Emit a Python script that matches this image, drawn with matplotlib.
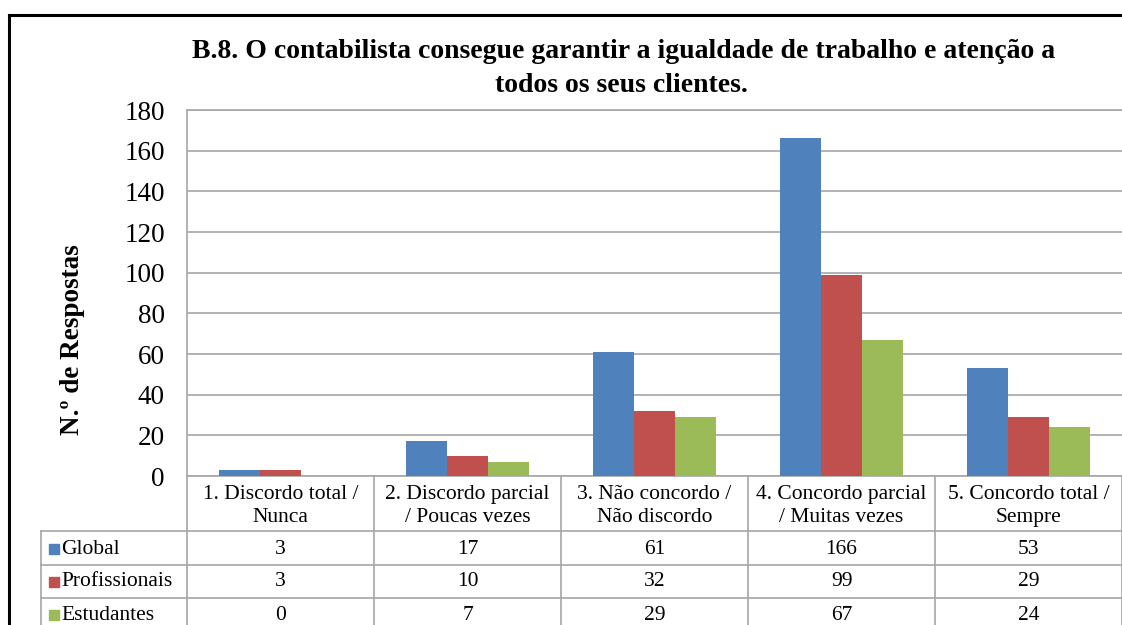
import numpy as np
import matplotlib.pyplot as plt
from matplotlib.lines import Line2D
from matplotlib.patches import Rectangle

plt.rcParams['font.family'] = ['Liberation Serif', 'DejaVu Serif']

# donnees
categorias = ["1. Discordo total /\nNunca", "2. Discordo parcial\n/ Poucas vezes",
              "3. Não concordo /\nNão discordo", "4. Concordo parcial\n/ Muitas vezes",
              "5. Concordo total /\nSempre"]
series = ["Global", "Profissionais", "Estudantes"]
global_v = [3, 17, 61, 166, 53]
profissionais = [3, 10, 32, 99, 29]
estudantes = [0, 7, 29, 67, 24]
cores = ["#4F81BD", "#C0504D", "#9BBB59"]

W, H = 1122, 625
fig = plt.figure(figsize=(W / 100, H / 100), dpi=100)

def fx(px):
    return px / W

def fy(py):
    return 1 - py / H

x0, x1, ytop, ybot = 187, 1122, 110, 476
ax = fig.add_axes([fx(x0), fy(ybot), fx(x1 - x0), fy(ytop) - fy(ybot)])

n = len(categorias)
x = np.arange(n)
bw = 0.22
for i, (vals, c) in enumerate(zip([global_v, profissionais, estudantes], cores)):
    ax.bar(x + (i - 1) * bw, vals, width=bw, color=c, zorder=3)

ax.set_xlim(-0.5, n - 0.5)
ax.set_ylim(0, 180)
ax.set_yticks(range(0, 181, 20))
ax.tick_params(axis='y', labelsize=19.5, length=0, pad=16)
ax.set_xticks([])
ax.grid(axis='y', color='#a6a6a6', lw=1.2, zorder=0)
for s in ax.spines.values():
    s.set_color('#a6a6a6')
    s.set_linewidth(1.2)
ax.spines['right'].set_visible(False)

fig.text(fx(72), fy(340), "N.º de Respostas", rotation=90, ha='center', va='center',
         fontsize=19.5, fontweight='bold')

fig.text(fx(624), fy(52), "B.8. O contabilista consegue garantir a igualdade de trabalho e atenção a",
         ha='center', va='center', fontsize=20, fontweight='bold')
fig.text(fx(621), fy(86), "todos os seus clientes.",
         ha='center', va='center', fontsize=20, fontweight='bold')

# tableau de donnees
gc = '#a6a6a6'
col_w = (x1 - x0) / n
rows_y = [476, 531, 565, 598, 632]
lab_x = 41
def hline(xa, xb, y):
    fig.add_artist(Line2D([fx(xa), fx(xb)], [fy(y), fy(y)], color=gc, lw=1.2))
def vline(xp, ya, yb):
    fig.add_artist(Line2D([fx(xp), fx(xp)], [fy(ya), fy(yb)], color=gc, lw=1.2))

for r in rows_y[1:4]:
    hline(lab_x, x1, r)
vline(lab_x, rows_y[1], H + 10)
for j in range(n + 1):
    vline(x0 + j * col_w, rows_y[0], H + 10)

for j, cat in enumerate(categorias):
    fig.text(fx(x0 + (j + 0.5) * col_w), fy(506), cat,
             ha='center', va='center', fontsize=15.5, linespacing=1.25)

row_c = [549, 582, 615]
for i, (name, vals, c) in enumerate(zip(series, [global_v, profissionais, estudantes], cores)):
    yc = row_c[i]
    fig.add_artist(Rectangle((fx(49), fy(yc + 5)), fx(10), fy(yc - 5) - fy(yc + 5),
                             color=c, transform=fig.transFigure))
    fig.text(fx(61), fy(yc), name, ha='left', va='center', fontsize=15.5)
    for j, v in enumerate(vals):
        fig.text(fx(x0 + (j + 0.5) * col_w), fy(yc), str(v), ha='center', va='center', fontsize=15.5)

# cadre
fig.add_artist(Line2D([fx(9), fx(9)], [fy(15), 0], color='black', lw=2.2))
fig.add_artist(Line2D([fx(9), 1], [fy(15), fy(15)], color='black', lw=2.2))

fig.savefig("out.png", dpi=100)
